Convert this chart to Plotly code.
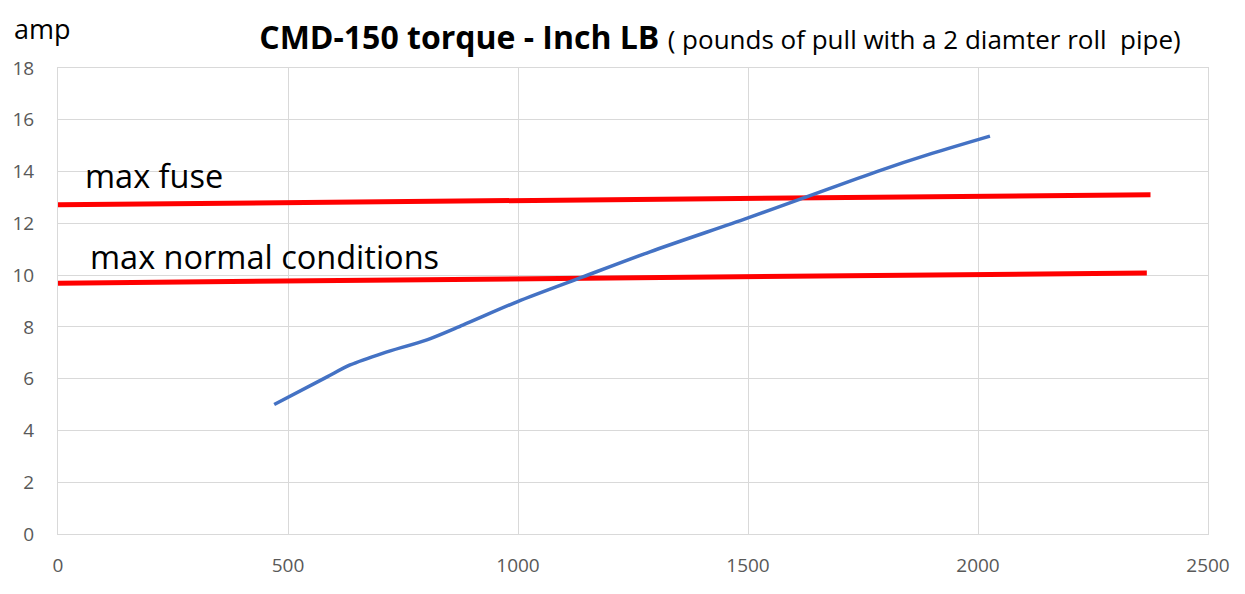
import plotly.graph_objects as go

# Data
pull_lb = [470, 585, 635, 707, 802, 880, 998, 1141, 1287, 1497, 1627, 1780, 1900, 2026]
current_amp = [5.0, 6.07, 6.53, 6.99, 7.5, 8.07, 8.97, 9.93, 10.9, 12.19, 13.02, 14.0, 14.7, 15.37]

fuse_x = [0, 2375]
fuse_y = [12.72, 13.1]
normal_x = [0, 2367]
normal_y = [9.69, 10.08]

x_ticks = [0, 500, 1000, 1500, 2000, 2500]
y_ticks = [0, 2, 4, 6, 8, 10, 12, 14, 16, 18]

FONT = "Open Sans"
L, T, R, B = 50, 60, 45, 68
W, H = 1245, 594
PW, PH = W - L - R, H - T - B

fig = go.Figure()
fig.add_trace(go.Scatter(x=fuse_x, y=fuse_y, mode="lines",
                         line=dict(color="#ff0000", width=5), cliponaxis=False,
                         showlegend=False, hoverinfo="skip"))
fig.add_trace(go.Scatter(x=normal_x, y=normal_y, mode="lines",
                         line=dict(color="#ff0000", width=5), cliponaxis=False,
                         showlegend=False, hoverinfo="skip"))
fig.add_trace(go.Scatter(x=pull_lb, y=current_amp, mode="lines",
                         line=dict(color="#4472c4", width=3.5, shape="spline", smoothing=0.8),
                         showlegend=False))

fig.add_annotation(x=54, y=13.86, xref="x", yref="y", text="max fuse", showarrow=False,
                   xanchor="left", yanchor="middle", font=dict(family=FONT, size=32.5, color="#000000"))
fig.add_annotation(x=66, y=10.73, xref="x", yref="y", text="max normal conditions", showarrow=False,
                   xanchor="left", yanchor="middle", font=dict(family=FONT, size=32.5, color="#000000"))
fig.add_annotation(x=(5 - L) / PW, y=1 + (T - 1) / PH, xref="paper", yref="paper", text="amp",
                   showarrow=False, xanchor="left", yanchor="top", borderpad=0,
                   font=dict(family=FONT, size=27, color="#000000"))

fig.update_layout(
    width=W, height=H,
    margin=dict(l=L, r=R, t=T, b=B, autoexpand=False),
    paper_bgcolor="white", plot_bgcolor="white",
    font=dict(family=FONT, color="#595959"),
    title=dict(
        text="<b>CMD-150 torque - Inch LB</b> <span style='font-size:26px'>( pounds of pull with a 2 diamter roll  pipe)</span>",
        x=712 / W, xref="container", xanchor="center",
        y=1 - 30 / H, yref="container", yanchor="middle",
        font=dict(family=FONT, size=32, color="#000000"),
    ),
    xaxis=dict(range=[0, 2500], tickvals=x_ticks, showgrid=True, gridcolor="#d9d9d9", gridwidth=1,
               zeroline=False, showline=True, mirror=True, linecolor="#d9d9d9", linewidth=1,
               automargin=False,
               ticks="", ticklabelstandoff=14, tickfont=dict(family=FONT, size=19, color="#595959")),
    yaxis=dict(range=[0, 18], tickvals=y_ticks, showgrid=True, gridcolor="#d9d9d9", gridwidth=1,
               zeroline=False, showline=True, mirror=True, linecolor="#d9d9d9", linewidth=1,
               automargin=False,
               ticks="", ticklabelstandoff=19, tickfont=dict(family=FONT, size=19, color="#595959")),
)

fig.write_html("out.html")
